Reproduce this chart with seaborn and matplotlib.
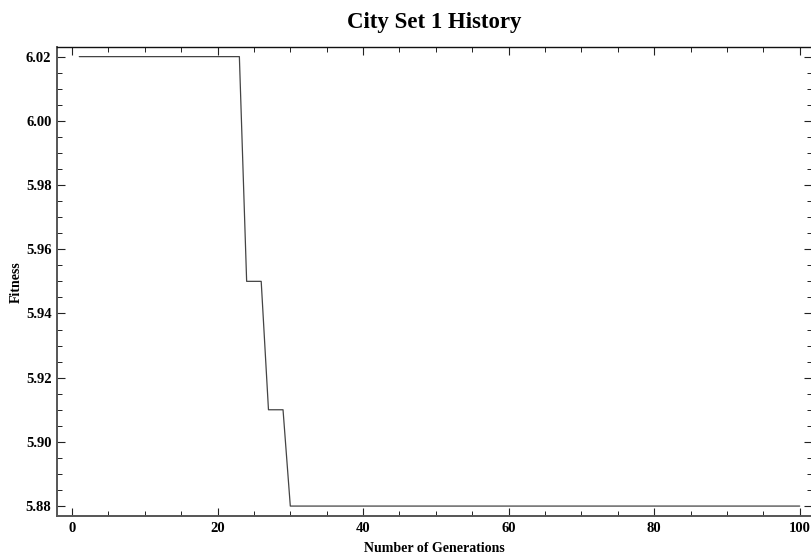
import numpy as np
import pandas as pd
import seaborn as sns
import matplotlib.pyplot as plt
from matplotlib.ticker import MultipleLocator

# fitness history per generation
generations = list(range(1, 101))
fitness = [6.02] * 23 + [5.95] * 3 + [5.91] * 3 + [5.88] * 71

df = pd.DataFrame({'Generation': generations, 'Fitness': fitness})

sns.set_style("ticks")
plt.rcParams['font.family'] = ['Liberation Serif', 'DejaVu Serif']
plt.rcParams['font.weight'] = 'bold'
plt.rcParams['text.color'] = 'black'
plt.rcParams['axes.labelcolor'] = 'black'
plt.rcParams['xtick.labelcolor'] = 'black'
plt.rcParams['ytick.labelcolor'] = 'black'

fig = plt.figure(figsize=(8.11, 5.56), dpi=100)
# frame runs off the right edge of the image like the original
ax = fig.add_axes([0.0703, 0.0719, 0.9310, 0.8430])

sns.lineplot(data=df, x='Generation', y='Fitness', ax=ax, color='#444444', linewidth=0.9)

ax.set_xlim(-2.06, 101.7)
ax.set_ylim(5.8769, 6.0229)
ax.xaxis.set_major_locator(MultipleLocator(20))
ax.xaxis.set_minor_locator(MultipleLocator(5))
ax.yaxis.set_major_locator(MultipleLocator(0.02))
ax.yaxis.set_minor_locator(MultipleLocator(0.005))
ax.yaxis.set_major_formatter(plt.FormatStrFormatter('%.2f'))

ax.tick_params(which='both', direction='in', top=True, right=True, labelsize=10.5, color='#222222')
ax.tick_params(which='major', length=6, width=0.8, pad=4)
ax.tick_params(which='minor', length=3.5, width=0.7)
for lab in ax.get_xticklabels() + ax.get_yticklabels():
    lab.set_fontweight('bold')

for side in ['left', 'bottom']:
    ax.spines[side].set_linewidth(1.4)
    ax.spines[side].set_color('#555555')
ax.spines['top'].set_linewidth(1.0)
ax.spines['top'].set_color('#111111')
ax.spines['right'].set_visible(False)

ax.set_xlabel('Number of Generations', fontsize=10, fontweight='bold', labelpad=5)
ax.set_ylabel('Fitness', fontsize=10, fontweight='bold', labelpad=2)
ax.set_title('City Set 1 History', fontsize=16.5, fontweight='bold', pad=14)

fig.savefig('out.png', dpi=100)
